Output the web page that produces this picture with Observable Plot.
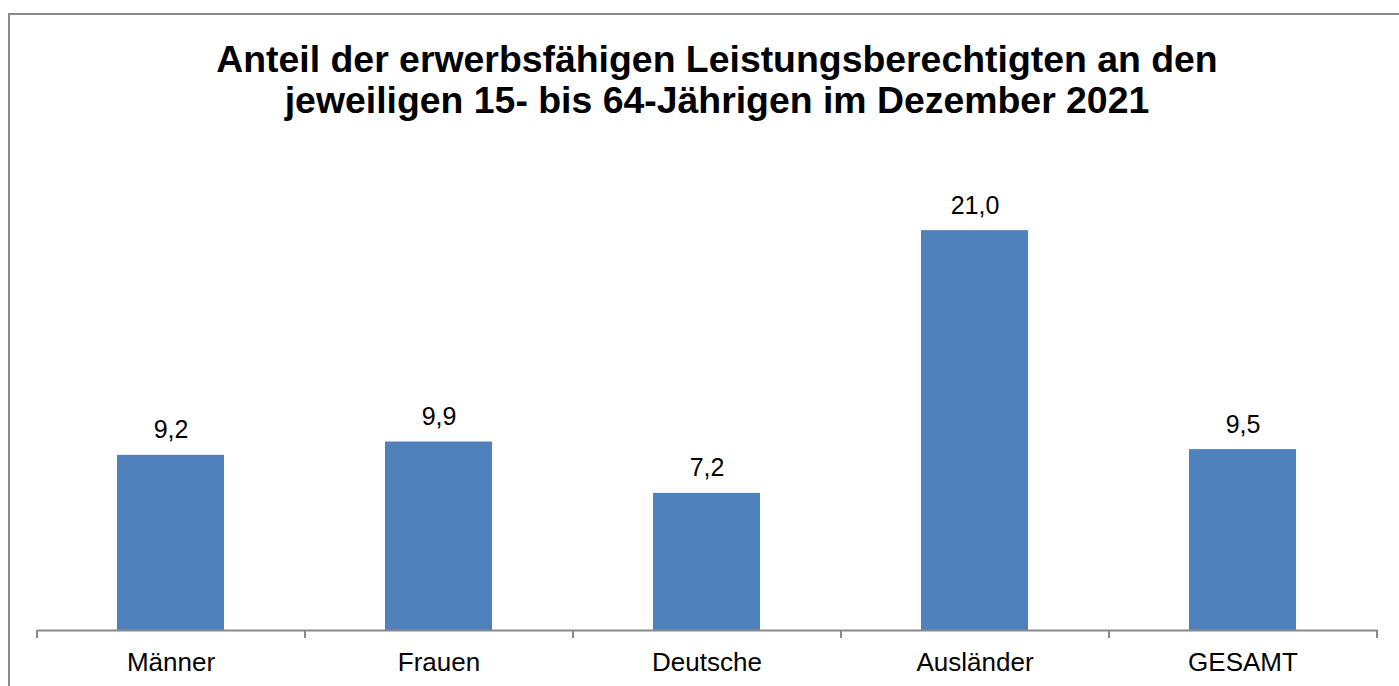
<!DOCTYPE html>
<html>
<head>
<meta charset="utf-8">
<script src="https://cdn.jsdelivr.net/npm/d3@7"></script>
<script src="https://cdn.jsdelivr.net/npm/@observablehq/plot@0.6"></script>
<style>
  html, body { margin: 0; padding: 0; background: #fff; overflow: hidden; }
  #wrap { position: relative; width: 1399px; height: 686px; overflow: hidden; font-family: "Liberation Sans", Arial, sans-serif; }
  #title { position: absolute; left: 0; top: 38.5px; width: 1434px; text-align: center;
           font: bold 37.4px "Liberation Sans", Arial, sans-serif; line-height: 41px; color: #000; }
  #chart { position: absolute; left: 0; top: 0; }
  #frame { position: absolute; left: 8px; top: 13px; width: 1500px; height: 800px;
           border: 2px solid #898989; pointer-events: none; }
</style>
</head>
<body>
<div id="wrap">
  <div id="chart"></div>
  <div id="title"></div>
  <div id="frame"></div>
</div>
<script>
const titleLines = [
  "Anteil der erwerbsfähigen Leistungsberechtigten an den",
  "jeweiligen 15- bis 64-Jährigen im Dezember 2021"
];
const categories = ["Männer", "Frauen", "Deutsche", "Ausländer", "GESAMT"];
const values = [9.2, 9.9, 7.2, 21.0, 9.5];
const yDomain = [0, 25];

const data = categories.map((c, i) => ({cat: c, value: values[i]}));

document.getElementById("title").innerHTML = titleLines.join("<br>");

const W = 1399, H = 686, mL = 37, mR = 22, mT = 154, mB = 56;
const step = (W - mL - mR) / categories.length;
const axisColor = "#898989";
const fmt = v => v.toFixed(1).replace(".", ",");

const chart = Plot.plot({
  width: W,
  height: H,
  marginLeft: mL,
  marginRight: mR,
  marginTop: mT,
  marginBottom: mB,
  style: {background: "none", fontFamily: "'Liberation Sans', Arial, sans-serif", color: "#000"},
  x: {type: "band", domain: categories, paddingInner: 0.6, paddingOuter: 0.3, label: null},
  y: {domain: yDomain, axis: null},
  marks: [
    Plot.barY(data, {x: "cat", y: "value", fill: "#4F81BD"}),
    Plot.ruleY([0], {stroke: axisColor, strokeWidth: 2}),
    Plot.ruleX(categories, {x: d => d, y1: 0, y2: 0, insetBottom: -8, dx: -step / 2, stroke: axisColor, strokeWidth: 2}),
    Plot.ruleX(categories.slice(-1), {x: d => d, y1: 0, y2: 0, insetBottom: -8, dx: step / 2, stroke: axisColor, strokeWidth: 2}),
    Plot.text(data, {x: "cat", y: "value", text: d => fmt(d.value), dy: -25, lineAnchor: "middle", fontSize: 25, fill: "#000"}),
    Plot.axisX({tickSize: 0, tickPadding: 22, fontSize: 26, fill: "#000", label: null})
  ]
});
document.getElementById("chart").appendChild(chart);
</script>
</body>
</html>
